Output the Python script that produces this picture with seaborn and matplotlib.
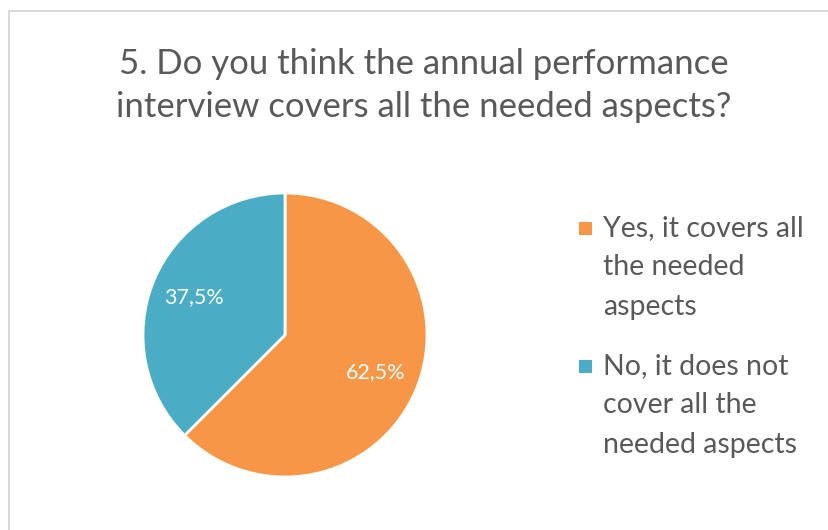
import matplotlib
matplotlib.use("Agg")
import matplotlib.pyplot as plt
from matplotlib.patches import Rectangle
import seaborn as sns

# Survey answers
categories = ["Yes, it covers all\nthe needed\naspects",
              "No, it does not\ncover all the\nneeded aspects"]
shares = [62.5, 37.5]
title = "5. Do you think the annual performance\ninterview covers all the needed aspects?"

sns.set_theme(style="white")
plt.rcParams["font.family"] = ["Lato", "DejaVu Sans"]

colors = ["#F79646", "#4BACC6"]
text_grey = "#595959"
W, H = 829, 530

fig = plt.figure(figsize=(W / 100, H / 100), dpi=100)
fig.patch.set_facecolor("white")

# light frame along the top and left edges
fig.add_artist(plt.Line2D([9.5 / W, 9.5 / W], [0, 1 - 10.5 / H],
                          transform=fig.transFigure, color="#D9D9D9", lw=1.5))
fig.add_artist(plt.Line2D([9.5 / W, 1], [1 - 10.5 / H, 1 - 10.5 / H],
                          transform=fig.transFigure, color="#D9D9D9", lw=1.5))

ax = fig.add_axes([143 / W, 53 / H, 284 / W, 284 / H])


def pct_label(v):
    return f"{v:.1f}%".replace(".", ",")


wedges, _, autotexts = ax.pie(
    shares, colors=colors, startangle=90, counterclock=False,
    autopct=pct_label, pctdistance=0.69,
    wedgeprops=dict(edgecolor="white", linewidth=2),
    textprops=dict(color="white", fontsize=15.5),
)
ax.set_xlim(-1, 1)
ax.set_ylim(-1, 1)
ax.set_aspect("equal")
ax.axis("off")

fig.text(424 / W, 1 - 85.5 / H, title, ha="center", va="center",
         fontsize=25, color=text_grey, linespacing=1.45)

# legend: colour square beside the first line of each wrapped label
entry_tops = [215, 353]
for label, color, top in zip(categories, colors, entry_tops):
    fig.add_artist(Rectangle((579 / W, 1 - (top + 20) / H), 13 / W, 13 / H,
                             transform=fig.transFigure, facecolor=color,
                             edgecolor="none"))
    fig.text(603 / W, 1 - top / H, label, ha="left", va="top",
             fontsize=20.5, color=text_grey, linespacing=1.64)

fig.savefig("out.png", dpi=100, facecolor="white")
